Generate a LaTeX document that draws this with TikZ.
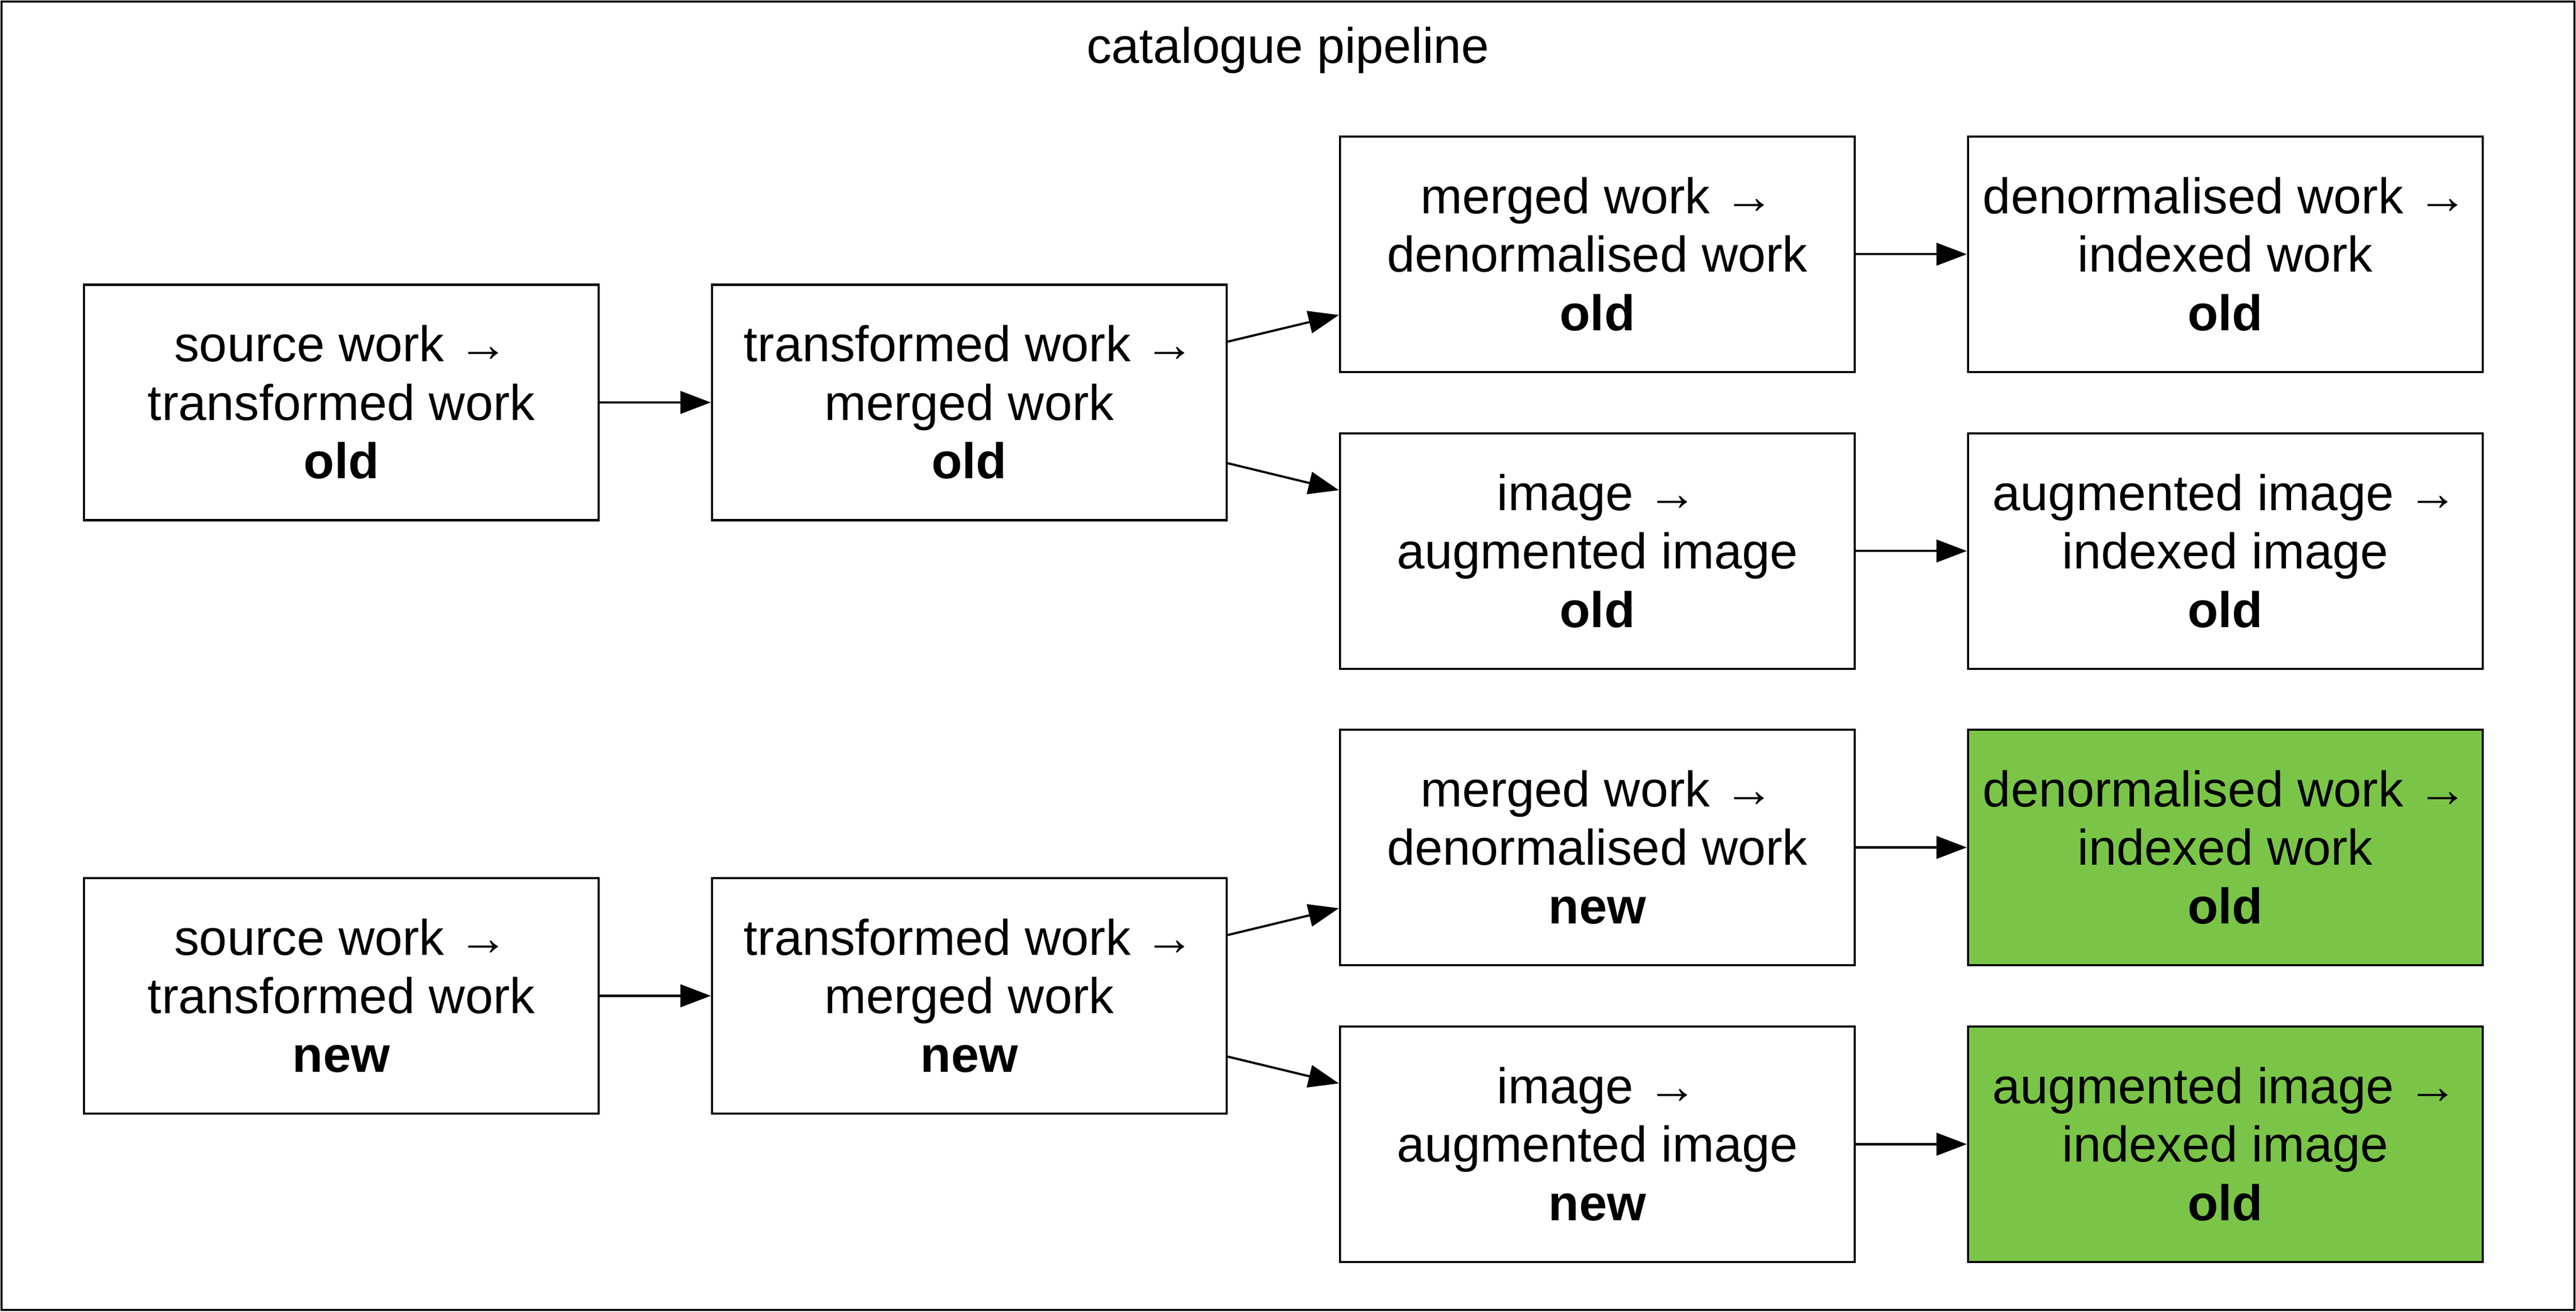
\documentclass[tikz,border=0pt]{standalone}
\usepackage{fontspec}
\setmainfont{Liberation Sans}
\usetikzlibrary{arrows.meta}
\definecolor{boxgreen}{HTML}{7AC547}
\newcommand\lstrut{\rule[-7pt]{0pt}{35.6pt}}
\begin{document}
\begin{tikzpicture}[x=1pt,y=1pt,
  stage/.style={draw=black, line width=1.35pt, minimum width=313.3pt, minimum height=143.3pt,
    inner sep=0pt, align=center, font=\fontsize{30.5pt}{35.6pt}\selectfont},
  donebox/.style={stage, fill=boxgreen},
  flow/.style={line width=1.35pt, -{Triangle[length=18.5pt,width=13.7pt]}}]
\useasboundingbox (0,0) rectangle (1568,-798.16);
\node[draw=black, line width=1.35pt, minimum width=1566pt, minimum height=796.2pt, inner sep=0pt] (frame) at (784,-399.1) {};
\node[anchor=base, font=\fontsize{30.4pt}{35.6pt}\selectfont] (title) at (784,-38.4) {catalogue pipeline};

\node[stage] (a1) at (207.8,-244.9) {\lstrut source work →\\\lstrut transformed work\\\lstrut\textbf{old}};
\node[stage] (a2) at (590,-244.9) {\lstrut transformed work →\\\lstrut merged work\\\lstrut\textbf{old}};
\node[stage] (a3) at (972.3,-154.7) {\lstrut merged work →\\\lstrut denormalised work\\\lstrut\textbf{old}};
\node[stage] (a4) at (972.3,-335.3) {\lstrut image →\\\lstrut augmented image\\\lstrut\textbf{old}};
\node[stage] (a5) at (1354.5,-154.7) {\lstrut denormalised work →\\\lstrut indexed work\\\lstrut\textbf{old}};
\node[stage] (a6) at (1354.5,-335.3) {\lstrut augmented image →\\\lstrut indexed image\\\lstrut\textbf{old}};

\node[stage] (b1) at (207.8,-606) {\lstrut source work →\\\lstrut transformed work\\\lstrut\textbf{new}};
\node[stage] (b2) at (590,-606) {\lstrut transformed work →\\\lstrut merged work\\\lstrut\textbf{new}};
\node[stage] (b3) at (972.3,-515.7) {\lstrut merged work →\\\lstrut denormalised work\\\lstrut\textbf{new}};
\node[stage] (b4) at (972.3,-696.3) {\lstrut image →\\\lstrut augmented image\\\lstrut\textbf{new}};
\node[donebox] (b5) at (1354.5,-515.7) {\lstrut denormalised work →\\\lstrut indexed work\\\lstrut\textbf{old}};
\node[donebox] (b6) at (1354.5,-696.3) {\lstrut augmented image →\\\lstrut indexed image\\\lstrut\textbf{old}};

\draw[flow] (a1.east) -- (a2.west);
\draw[flow] ([yshift=37pt]a2.east) -- ([yshift=-37pt]a3.west);
\draw[flow] ([yshift=-37pt]a2.east) -- ([yshift=37pt]a4.west);
\draw[flow] (a3.east) -- (a5.west);
\draw[flow] (a4.east) -- (a6.west);

\draw[flow] (b1.east) -- (b2.west);
\draw[flow] ([yshift=37pt]b2.east) -- ([yshift=-37pt]b3.west);
\draw[flow] ([yshift=-37pt]b2.east) -- ([yshift=37pt]b4.west);
\draw[flow] (b3.east) -- (b5.west);
\draw[flow] (b4.east) -- (b6.west);
\end{tikzpicture}
\end{document}
